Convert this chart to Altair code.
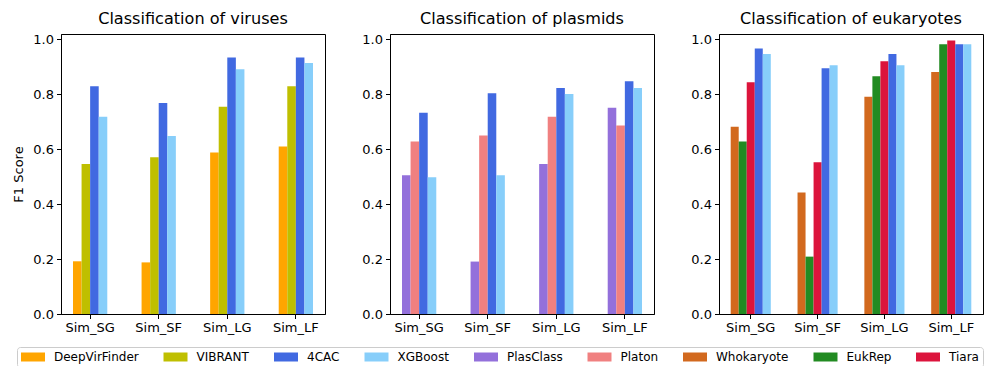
import altair as alt
import pandas as pd

datasets = ["Sim_SG", "Sim_SF", "Sim_LG", "Sim_LF"]

# Viruses
virus_methods = ["DeepVirFinder", "VIBRANT", "4CAC", "XGBoost"]
virus_deepvirfinder = [0.192, 0.188, 0.588, 0.610]
virus_vibrant = [0.546, 0.571, 0.755, 0.830]
virus_4cac = [0.830, 0.769, 0.934, 0.934]
virus_xgboost = [0.719, 0.648, 0.892, 0.914]

# Plasmids
plasmid_methods = ["PlasClass", "Platon", "4CAC", "XGBoost"]
plasmid_plasclass = [0.505, 0.191, 0.546, 0.751]
plasmid_platon = [0.628, 0.650, 0.719, 0.687]
plasmid_4cac = [0.733, 0.804, 0.823, 0.848]
plasmid_xgboost = [0.498, 0.505, 0.801, 0.823]

# Eukaryotes
euk_methods = ["Whokaryote", "EukRep", "Tiara", "4CAC", "XGBoost"]
euk_whokaryote = [0.682, 0.443, 0.791, 0.882]
euk_eukrep = [0.628, 0.209, 0.866, 0.983]
euk_tiara = [0.844, 0.553, 0.921, 0.996]
euk_4cac = [0.967, 0.895, 0.947, 0.983]
euk_xgboost = [0.947, 0.906, 0.906, 0.983]

all_methods = ["DeepVirFinder", "VIBRANT", "4CAC", "XGBoost", "PlasClass",
               "Platon", "Whokaryote", "EukRep", "Tiara"]
all_colors = ["#FFA500", "#BFBF00", "#4169E1", "#87CEFA", "#9370DB",
              "#F08080", "#D2691E", "#228B22", "#DC143C"]

y_ticks = [0.0, 0.2, 0.4, 0.6, 0.8, 1.0]


def long_df(methods, series):
    rows = []
    for m, vals in zip(methods, series):
        for d, v in zip(datasets, vals):
            rows.append({"dataset": d, "method": m, "f1": v})
    return pd.DataFrame(rows)


virus_df = long_df(virus_methods, [virus_deepvirfinder, virus_vibrant, virus_4cac, virus_xgboost])
plasmid_df = long_df(plasmid_methods, [plasmid_plasclass, plasmid_platon, plasmid_4cac, plasmid_xgboost])
euk_df = long_df(euk_methods, [euk_whokaryote, euk_eukrep, euk_tiara, euk_4cac, euk_xgboost])

FONT = "DejaVu Sans"

legend = alt.Legend(
    title=None, orient="none", legendX=-44, legendY=313,
    direction="horizontal", columns=9,
    symbolType="M-1,-0.75H3V0.75H-1Z", symbolSize=144,
    symbolStrokeWidth=0, symbolOpacity=1,
    labelFontSize=12, labelFont=FONT, labelColor="black", labelLimit=0,
    labelOffset=21, columnPadding=24.5, padding=4,
    strokeColor="#cccccc", fillColor="white", cornerRadius=3,
)


def panel(df, methods, title, ytitle, pad_inner):
    return alt.Chart(df).mark_bar().encode(
        x=alt.X("dataset:N", sort=datasets,
                scale=alt.Scale(domain=datasets, paddingInner=pad_inner, paddingOuter=0.175),
                axis=alt.Axis(title=None, labelAngle=0)),
        xOffset=alt.XOffset("method:N",
                            scale=alt.Scale(domain=methods, paddingInner=0, paddingOuter=0)),
        y=alt.Y("f1:Q", scale=alt.Scale(domain=[0, 1.02], nice=False),
                axis=alt.Axis(values=y_ticks, format=".1f", title=ytitle)),
        color=alt.Color("method:N",
                        scale=alt.Scale(domain=all_methods, range=all_colors),
                        legend=legend),
    ).properties(width=264, height=280, title=title)


p1 = panel(virus_df, virus_methods, "Classification of viruses", "F1 Score", 0.5)
p2 = panel(plasmid_df, plasmid_methods, "Classification of plasmids", None, 0.5)
p3 = panel(euk_df, euk_methods, "Classification of eukaryotes", None, 0.4)

chart = alt.hconcat(p1, p2, p3, spacing=35).resolve_scale(
    xOffset="independent", x="independent", y="independent"
).properties(
    padding={"left": 4, "top": 2, "right": 0, "bottom": 0}
).configure_view(
    stroke="black", strokeWidth=1
).configure_axis(
    labelFont=FONT, labelFontSize=13, labelColor="black",
    titleFont=FONT, titleFontSize=13, titleColor="black", titleFontWeight="normal",
    domainColor="black", tickColor="black", tickSize=4.5, labelPadding=3,
    titlePadding=7, grid=False
).configure_title(
    font=FONT, fontSize=16.1, fontWeight="normal", color="black", offset=6
)

chart.save("out.html", embed_options={"renderer": "svg", "actions": False})
